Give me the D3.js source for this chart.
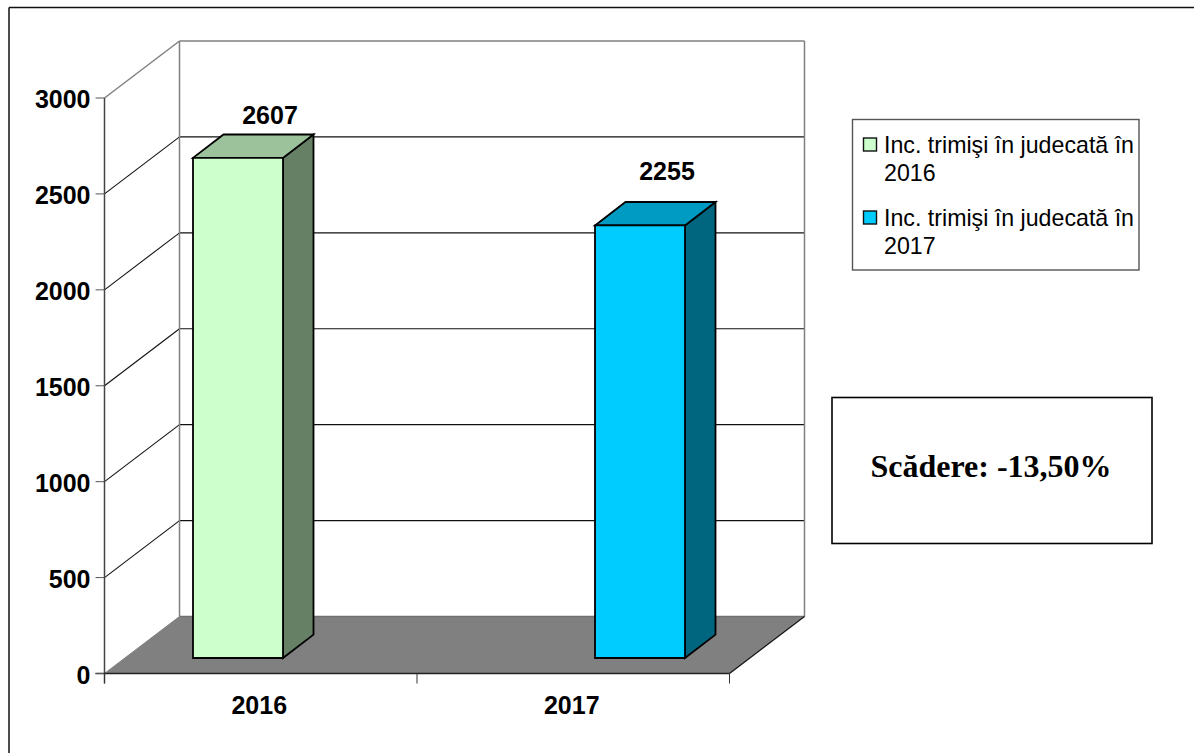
<!DOCTYPE html>
<html>
<head>
<meta charset="utf-8">
<script src="https://cdn.jsdelivr.net/npm/d3@7"></script>
<style>
html, body { margin: 0; padding: 0; background: #fff; overflow: hidden; }
svg { display: block; }
text { font-family: "Liberation Sans", Arial, sans-serif; }
</style>
</head>
<body>
<svg id="chart" width="1194" height="753"></svg>
<script>
var years = ["2016", "2017"];
var values = [2607, 2255];
var yTicks = [0, 500, 1000, 1500, 2000, 2500, 3000];
var legendLines = [["Inc. trimişi în judecată în", "2016"], ["Inc. trimişi în judecată în", "2017"]];
var frontColors = ["#ccffcc", "#00ccff"];
var topColors = ["#9bc29b", "#009bc2"];
var sideColors = ["#668066", "#006680"];
var noteText = "Scădere: -13,50%";

var svg = d3.select("#chart");

// 3D depth of the chart box and of one bar
var depthX = 75, depthY = -57;
var barDepthX = 30.5, barDepthY = -23.4;

var x = d3.scaleBand().domain(years).range([104.5, 729.5]);
var y = d3.scaleLinear().domain([0, 3000]).range([673.5, 98]);

function line(x1, y1, x2, y2, color, width) {
    svg.append("line")
        .attr("x1", x1).attr("y1", y1).attr("x2", x2).attr("y2", y2)
        .attr("stroke", color).attr("stroke-width", width);
}

function poly(points, fill, stroke, width) {
    svg.append("polygon")
        .attr("points", points.map(function (p) { return p.join(","); }).join(" "))
        .attr("fill", fill)
        .attr("stroke", stroke || "none")
        .attr("stroke-width", width || 0)
        .attr("stroke-linejoin", "miter");
}

// outer frame, only the top and left edges fall inside the picture
line(9, 7.5, 1194, 7.5, "#111", 1.5);
line(9, 7.5, 9, 753, "#111", 1.5);

var x0 = x.range()[0], x1 = x.range()[1], y0 = y(0), yMax = y(3000);

// floor
poly([[x0, y0], [x0 + depthX, y0 + depthY], [x1 + depthX, y0 + depthY], [x1, y0]], "#808080");

// gridlines, side wall then back wall
yTicks.slice(1, -1).forEach(function (t) {
    line(x0, y(t), x0 + depthX, y(t) + depthY, "#111", 1.1);
    line(x0 + depthX, y(t) + depthY, x1 + depthX, y(t) + depthY, "#111", 1.1);
});

// back wall frame
line(x0, yMax, x0 + depthX, yMax + depthY, "#808080", 1.5);
line(x0 + depthX, yMax + depthY, x1 + depthX, yMax + depthY, "#808080", 1.5);
line(x0 + depthX, yMax + depthY, x0 + depthX, y0 + depthY, "#808080", 1.5);
line(x1 + depthX, yMax + depthY, x1 + depthX, y0 + depthY, "#808080", 1.5);
line(x0 + depthX, y0 + depthY, x1 + depthX, y0 + depthY, "#707070", 1.5);
line(x1, y0, x1 + depthX, y0 + depthY, "#111", 1.2);
line(x0, y0, x0 + depthX, y0 + depthY, "#808080", 1);

// axes
line(x0, yMax, x0, y0 + 10, "#444", 1.5);
line(x0 - 9, y0, x1, y0, "#222", 1.5);
yTicks.forEach(function (t) {
    line(x0 - 9, y(t), x0, y(t), "#555", 1);
});
x.domain().forEach(function (d) {
    line(x(d), y0, x(d), y0 + 10, "#333", 1);
});
line(x1, y0, x1, y0 + 10, "#333", 1);

svg.append("g").selectAll("text").data(yTicks).enter().append("text")
    .attr("x", x0 - 14).attr("y", function (d) { return y(d) + 10; })
    .attr("text-anchor", "end").attr("font-size", 25).attr("font-weight", "bold")
    .text(function (d) { return d; });

svg.append("g").selectAll("text").data(years).enter().append("text")
    .attr("x", function (d) { return x(d) + x.bandwidth() / 2 - 1.5; }).attr("y", 714)
    .attr("text-anchor", "middle").attr("font-size", 25).attr("font-weight", "bold")
    .text(function (d) { return d; });

// bars
var barWidth = 90, barBottom = 658;
var barLeft = { "2016": 193, "2017": 595 };
var labelDx = { "2016": 77, "2017": 72 };
var labelDy = { "2016": -33.5, "2017": -45.5 };
var valueHeight = y(0) - y(1);

years.forEach(function (d, i) {
    var l = barLeft[d], r = l + barWidth;
    var t = barBottom - values[i] * valueHeight;
    var stroke = "#000";
    poly([[r, barBottom], [r + barDepthX, barBottom + barDepthY], [r + barDepthX, t + barDepthY], [r, t]], sideColors[i], stroke, 1.8);
    poly([[l, t], [l + barDepthX, t + barDepthY], [r + barDepthX, t + barDepthY], [r, t]], topColors[i], stroke, 1.8);
    poly([[l, barBottom], [l, t], [r, t], [r, barBottom]], frontColors[i], stroke, 1.8);
    svg.append("text")
        .attr("x", l + labelDx[d]).attr("y", t + labelDy[d])
        .attr("text-anchor", "middle").attr("font-size", 25).attr("font-weight", "bold")
        .text(values[i]);
});

// legend
svg.append("rect").attr("x", 852.5).attr("y", 119.5).attr("width", 286.5).attr("height", 150.5)
    .attr("fill", "#fff").attr("stroke", "#555").attr("stroke-width", 1.4);
legendLines.forEach(function (lines, i) {
    var top = 145 + i * 73;
    svg.append("rect").attr("x", 863.5).attr("y", top - 7).attr("width", 13).attr("height", 13)
        .attr("fill", frontColors[i]).attr("stroke", "#111").attr("stroke-width", 1.4);
    lines.forEach(function (s, j) {
        svg.append("text").attr("x", 884).attr("y", top + 7.5 + j * 28.4)
            .attr("font-size", 23.2).attr("fill", "#000").text(s);
    });
});

// note box
svg.append("rect").attr("x", 832).attr("y", 397.5).attr("width", 320).attr("height", 146)
    .attr("fill", "#fff").attr("stroke", "#000").attr("stroke-width", 1.6);
svg.append("text").attr("x", 991).attr("y", 476.5)
    .attr("text-anchor", "middle").attr("font-size", 32).attr("font-weight", "bold")
    .style("font-family", "'Liberation Serif', 'Times New Roman', serif")
    .text(noteText);
</script>
</body>
</html>
